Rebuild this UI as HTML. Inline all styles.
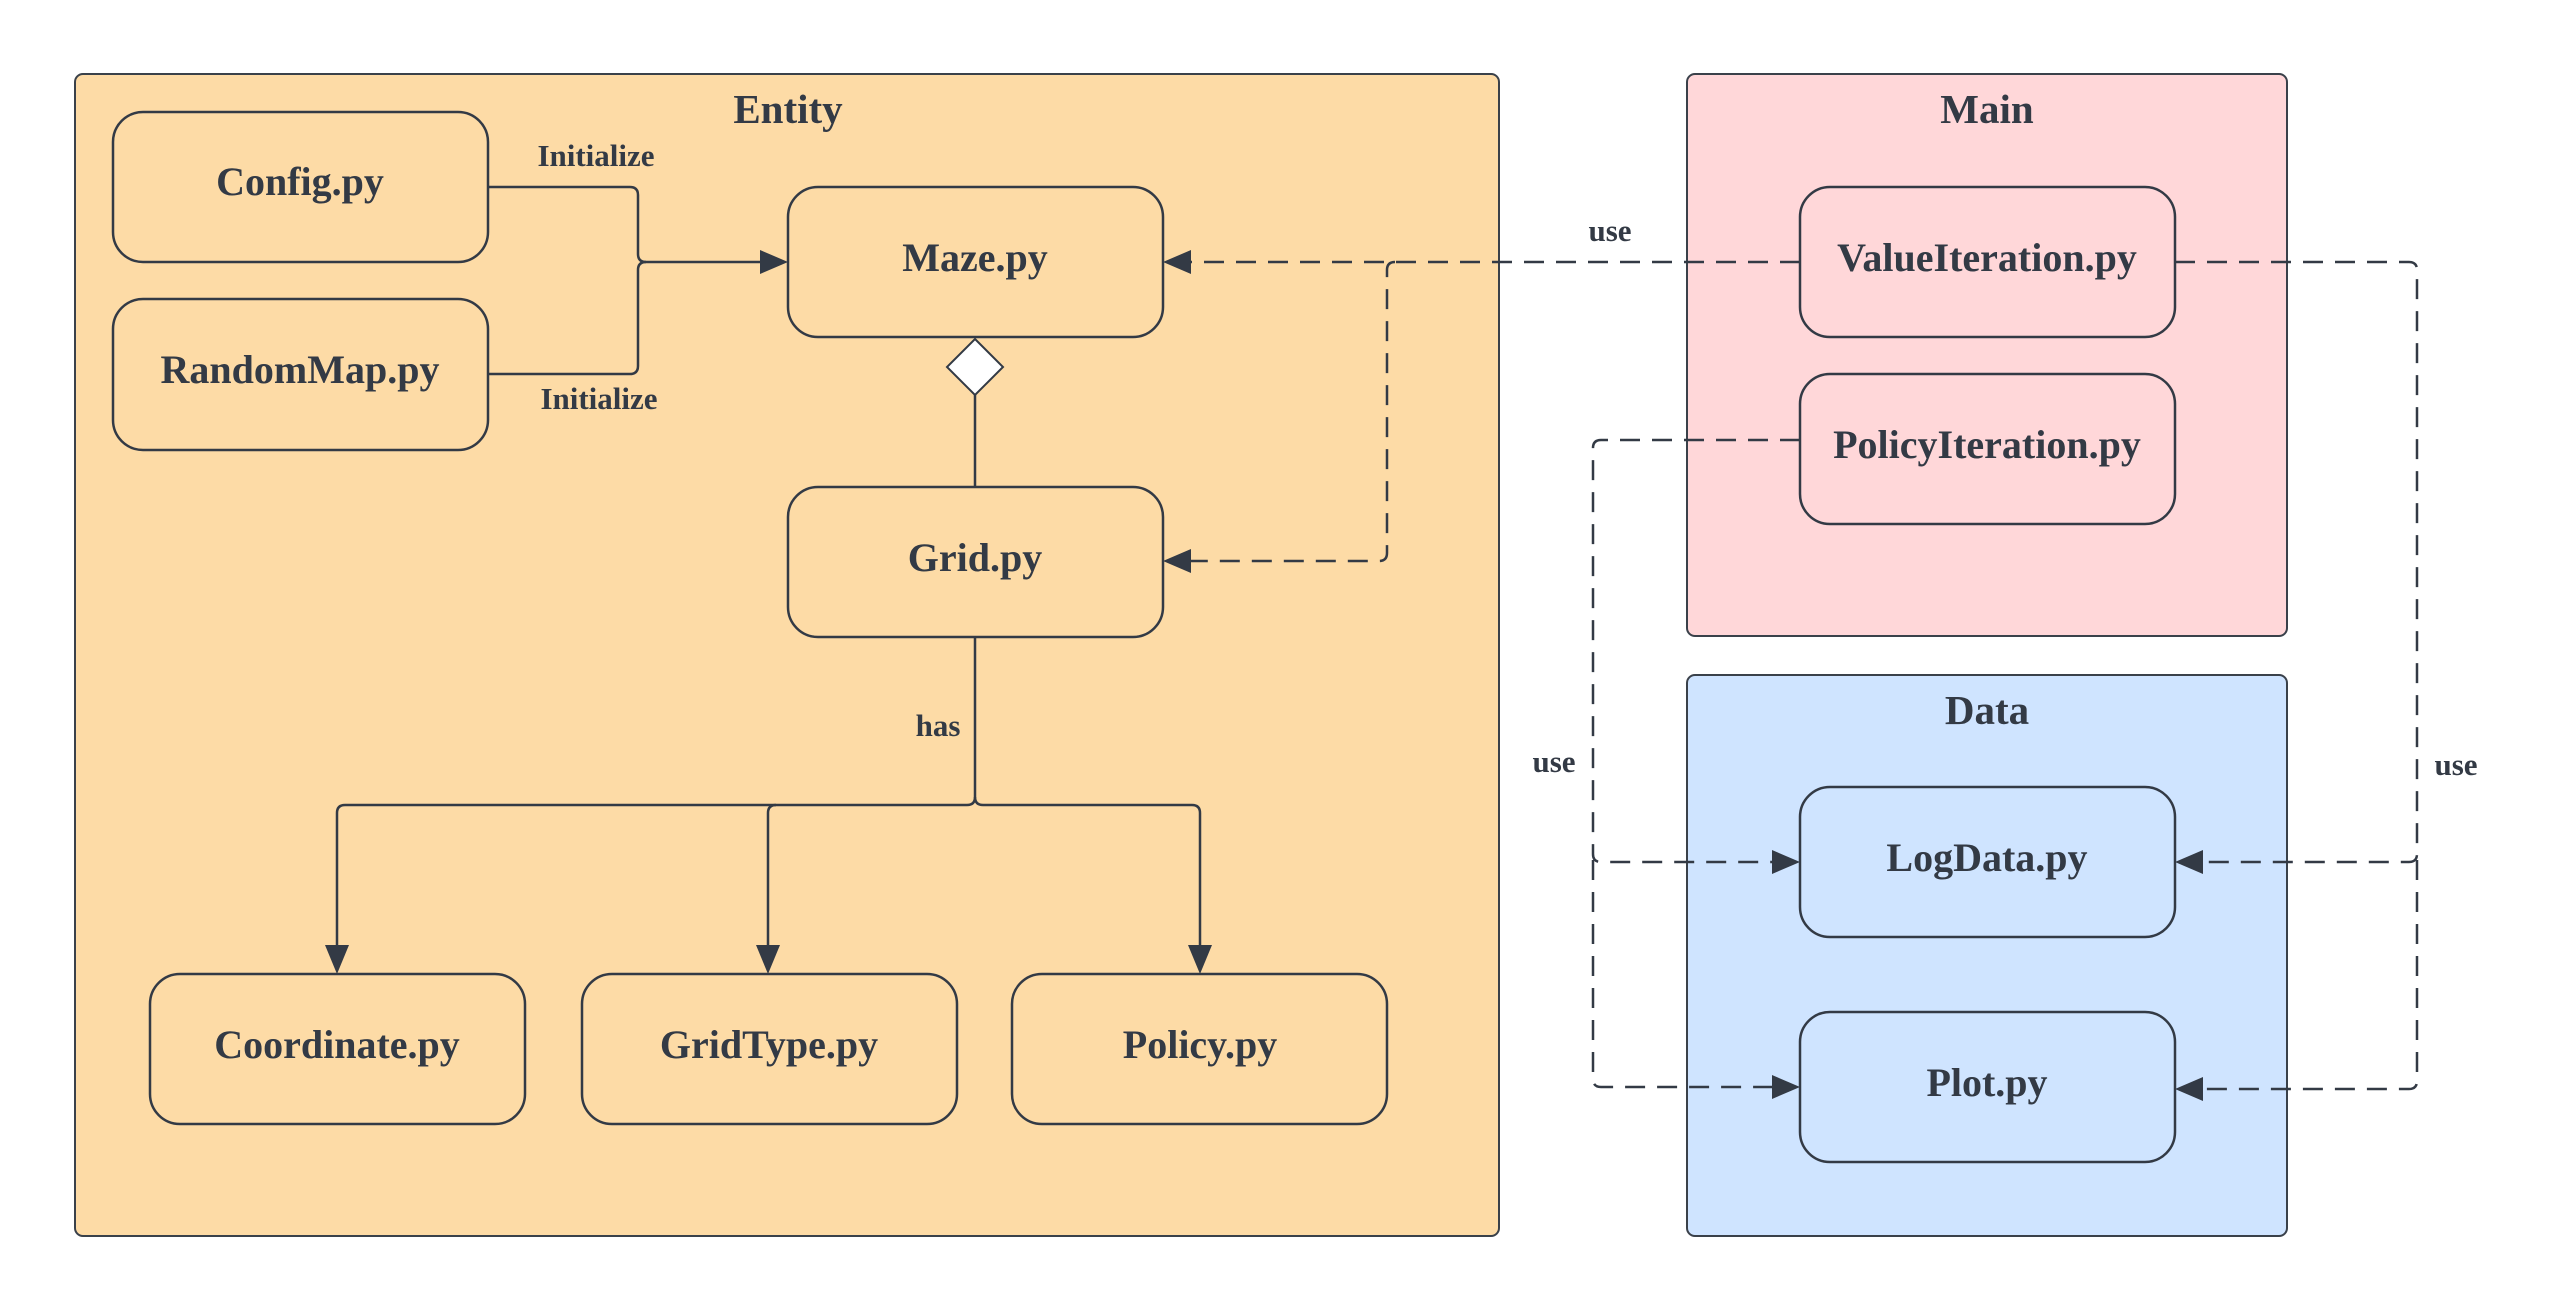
<!DOCTYPE html>
<html><head><meta charset="utf-8"><style>
html,body{margin:0;padding:0;background:#fff;}
svg{display:block;}
text{font-family:"Liberation Serif",serif;font-weight:bold;fill:#333a45;text-anchor:middle;}
</style></head><body>
<svg width="2554" height="1313" viewBox="0 0 2554 1313" xmlns="http://www.w3.org/2000/svg">
<rect x="75" y="74" width="1424" height="1162" rx="8" fill="#fddba6" stroke="#3a414a" stroke-width="2"/>
<rect x="1687" y="74" width="600" height="562" rx="8" fill="#ffd7d9" stroke="#3a414a" stroke-width="2"/>
<rect x="1687" y="675" width="600" height="561" rx="8" fill="#cfe4ff" stroke="#3a414a" stroke-width="2"/>
<text x="788" y="123" font-size="41">Entity</text>
<text x="1987" y="123" font-size="41">Main</text>
<text x="1987" y="724" font-size="41">Data</text>

<g fill="none" stroke="#333a45" stroke-width="2.5">
<path d="M488,187 H630 Q638,187 638,195 V254 Q638,262 646,262 H762"/>
<path d="M488,374 H630 Q638,374 638,366 V270 Q638,262 646,262"/>
<path d="M975,395 V487"/>
<path d="M975,637 V797 Q975,805 967,805 H345 Q337,805 337,813 V950"/>
<path d="M975,797 Q975,805 983,805 H1192 Q1200,805 1200,813 V950"/>
<path d="M768,950 V813 Q768,805 776,805"/>
</g>
<path d="M768,945 L756,945 L768,974 L780,945 Z" fill="#333a45"/>
<path d="M337,945 L325,945 L337,974 L349,945 Z" fill="#333a45"/>
<path d="M1200,945 L1188,945 L1200,974 L1212,945 Z" fill="#333a45"/>
<path d="M760,250 L788,262 L760,274 Z" fill="#333a45"/>
<polygon points="975,339 1003,367 975,395 947,367" fill="#fff" stroke="#333a45" stroke-width="2"/>

<g fill="none" stroke="#333a45" stroke-width="2.5" stroke-dasharray="20,12">
<path d="M1800,262 H1190"/>
<path d="M1395,262 Q1387,262 1387,270 V553 Q1387,561 1379,561 H1190"/>
<path d="M1800,440 H1601 Q1593,440 1593,448 V854 Q1593,862 1601,862 H1775"/>
<path d="M1593,860 V1079 Q1593,1087 1601,1087 H1775"/>
<path d="M2175,262 H2409 Q2417,262 2417,270 V854 Q2417,862 2409,862 H2202"/>
<path d="M2417,860 V1081 Q2417,1089 2409,1089 H2202"/>
</g>
<g fill="#333a45">
<path d="M1163,262 L1191,250 L1191,274 Z"/>
<path d="M1163,561 L1191,549 L1191,573 Z"/>
<path d="M1800,862 L1772,850 L1772,874 Z"/>
<path d="M1800,1087 L1772,1075 L1772,1099 Z"/>
<path d="M2175,862 L2203,850 L2203,874 Z"/>
<path d="M2175,1089 L2203,1077 L2203,1101 Z"/>
</g>

<g stroke="#333a45" stroke-width="2.5">
<rect x="113" y="112" width="375" height="150" rx="30" fill="#fddba6"/>
<rect x="113" y="299" width="375" height="151" rx="30" fill="#fddba6"/>
<rect x="788" y="187" width="375" height="150" rx="30" fill="#fddba6"/>
<rect x="788" y="487" width="375" height="150" rx="30" fill="#fddba6"/>
<rect x="150" y="974" width="375" height="150" rx="30" fill="#fddba6"/>
<rect x="582" y="974" width="375" height="150" rx="30" fill="#fddba6"/>
<rect x="1012" y="974" width="375" height="150" rx="30" fill="#fddba6"/>
<rect x="1800" y="187" width="375" height="150" rx="30" fill="#ffd7d9"/>
<rect x="1800" y="374" width="375" height="150" rx="30" fill="#ffd7d9"/>
<rect x="1800" y="787" width="375" height="150" rx="30" fill="#cfe4ff"/>
<rect x="1800" y="1012" width="375" height="150" rx="30" fill="#cfe4ff"/>
</g>
<g font-size="40">
<text x="300" y="195">Config.py</text>
<text x="300" y="383">RandomMap.py</text>
<text x="975" y="271">Maze.py</text>
<text x="975" y="571">Grid.py</text>
<text x="337" y="1058">Coordinate.py</text>
<text x="769" y="1058">GridType.py</text>
<text x="1200" y="1058">Policy.py</text>
<text x="1987" y="271">ValueIteration.py</text>
<text x="1987" y="458">PolicyIteration.py</text>
<text x="1987" y="871">LogData.py</text>
<text x="1987" y="1096">Plot.py</text>
</g>
<g font-size="31">
<text x="596" y="166">Initialize</text>
<text x="599" y="409">Initialize</text>
<text x="938" y="736">has</text>
<text x="1610" y="241">use</text>
<text x="1554" y="772">use</text>
<text x="2456" y="775">use</text>
</g>
</svg>
</body></html>
